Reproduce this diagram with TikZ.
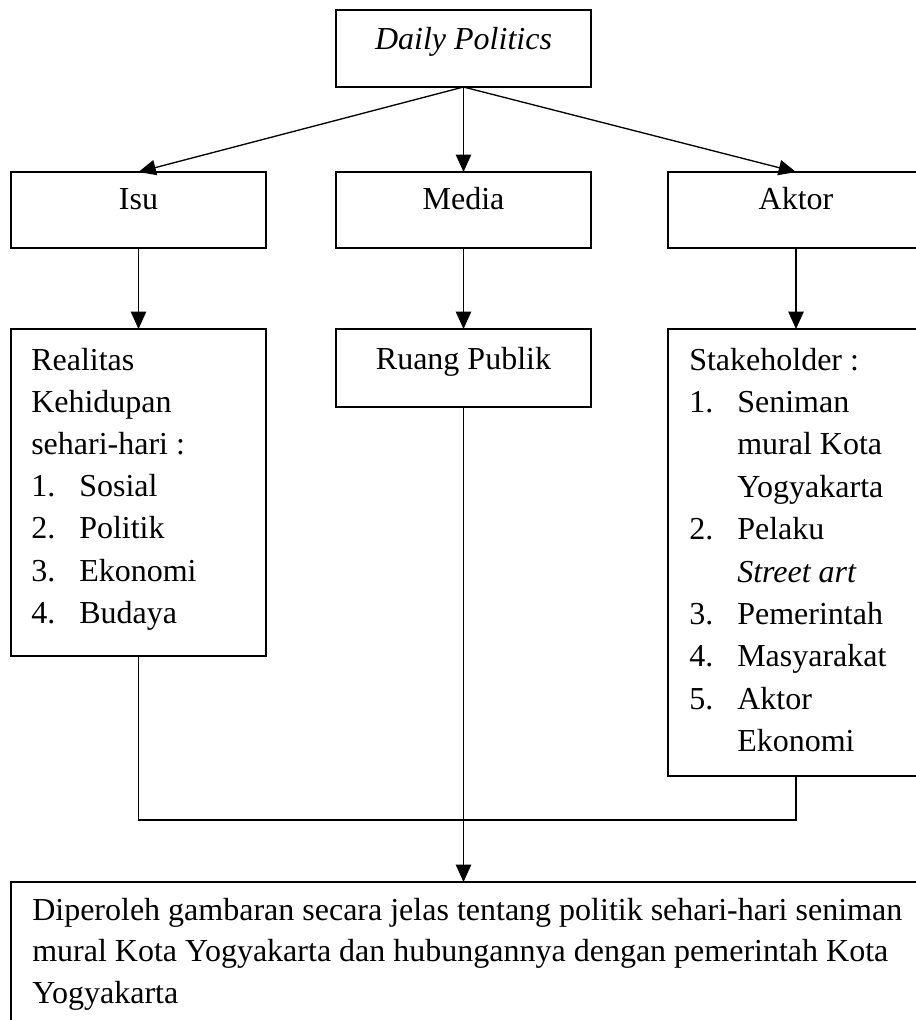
\documentclass[tikz,border=0pt]{standalone}
\usepackage{fontspec}
\setmainfont{Liberation Serif}
\usetikzlibrary{arrows.meta}
\newlength\pu
\setlength\pu{0.75pt}
\begin{document}
\begin{tikzpicture}[x=0.75pt,y=-0.75pt,
  every node/.style={font=\fontsize{24}{30}\selectfont},
  box/.style={draw, line width=1.1pt, inner sep=0pt, outer sep=0pt, anchor=north west},
  txt/.style={anchor=base west, inner sep=0pt},
  ctxt/.style={anchor=base, inner sep=0pt},
  link/.style={line width=1pt},
  arr/.style={link, -{Triangle[length=13pt,width=11.5pt]}}]
\useasboundingbox (0,0) rectangle (916,1020);
\clip (0,0) rectangle (916,1020);

% boxes
\node[box, minimum width=255\pu, minimum height=77\pu] (dp) at (336,10) {};
\node[box, minimum width=255\pu, minimum height=76\pu] (isu) at (11,172) {};
\node[box, minimum width=255\pu, minimum height=76\pu] (media) at (336,172) {};
\node[box, minimum width=256\pu, minimum height=76\pu] (aktor) at (668,172) {};
\node[box, minimum width=255\pu, minimum height=327\pu] (real) at (11,329) {};
\node[box, minimum width=255\pu, minimum height=78\pu] (ruang) at (336,329) {};
\node[box, minimum width=256\pu, minimum height=447\pu] (stake) at (668,329) {};
\node[box, minimum width=920\pu, minimum height=160\pu] (hasil) at (11,882) {};

% box labels
\node[ctxt] (dpt) at (463.5,50) {\itshape Daily Politics};
\node[ctxt] (isut) at (138.5,209) {Isu};
\node[ctxt] (mediat) at (463.5,209) {Media};
\node[ctxt] (aktort) at (796,209) {Aktor};
\node[ctxt] (ruangt) at (463.5,369) {Ruang Publik};

% Realitas list
\foreach \t [count=\i from 0] in {Realitas, Kehidupan, sehari-hari :}
  \node[txt] (r\i) at (31,{370+42.2*\i}) {\t};
\foreach \n/\t [count=\i from 3] in {1/Sosial,2/Politik,3/Ekonomi,4/Budaya}{
  \node[txt] (rn\i) at (31,{370+42.2*\i}) {\n.};
  \node[txt] (rt\i) at (79,{370+42.2*\i}) {\t};
}

% Stakeholder list
\node[txt] (s0) at (689,370) {Stakeholder :};
\foreach \n/\i in {1/1,2/4,3/6,4/7,5/8}
  \node[txt] (sn\i) at (689,{370+42.4*\i}) {\n.};
\foreach \t [count=\i from 1] in {Seniman, mural Kota, Yogyakarta, Pelaku, {\itshape Street art}, Pemerintah, Masyarakat, Aktor, Ekonomi}
  \node[txt] (st\i) at (737,{370+42.4*\i}) {\t};

% bottom text
\node[txt] (h1) at (32,920) {Diperoleh gambaran secara jelas tentang politik sehari-hari seniman};
\node[txt] (h2) at (32,961) {mural Kota Yogyakarta dan hubungannya dengan pemerintah Kota};
\node[txt] (h3) at (32,1003) {Yogyakarta};

% connectors
\coordinate (j) at (0,820);
\draw[arr] (dp.south) -- (isu.north);
\draw[arr] (dp.south) -- (media.north);
\draw[arr] (dp.south) -- (aktor.north);
\draw[arr] (isu.south) -- (real.north);
\draw[arr] (media.south) -- (ruang.north);
\draw[arr] (aktor.south) -- (stake.north);
\draw[link] (real.south) -- (real.south |- j) -- (stake.south |- j) -- (stake.south);
\draw[arr] (ruang.south) -- (ruang.south |- hasil.north);
\end{tikzpicture}
\end{document}
